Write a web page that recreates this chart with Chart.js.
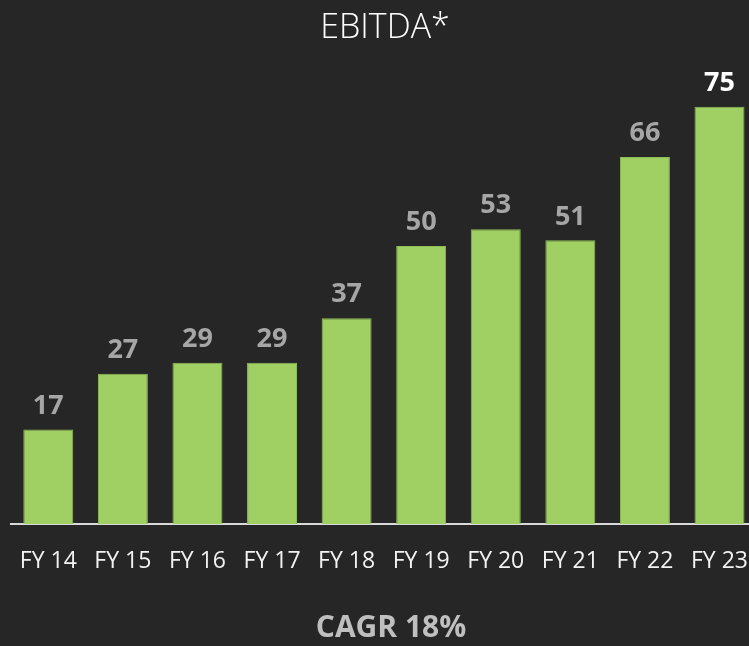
<!DOCTYPE html>
<html>
<head>
<meta charset="utf-8">
<script src="https://cdn.jsdelivr.net/npm/chart.js@4/dist/chart.umd.min.js"></script>
<style>
  html, body { margin: 0; padding: 0; background: #262626; overflow: hidden; }
  #wrap { position: relative; width: 749px; height: 646px; overflow: hidden; }
  #chart { position: absolute; left: 0; top: 0; }
  .title { position: absolute; top: 2px; left: 0; width: 770px; text-align: center;
           font-family: 'Open Sans', sans-serif; font-weight: 300; font-size: 34px; color: #ffffff; }
  .cagr { position: absolute; top: 605px; left: 0; width: 782px; text-align: center;
          font-family: 'Open Sans', sans-serif; font-weight: 700; font-size: 30px; color: #bfbfbf; }
</style>
</head>
<body>
<div id="wrap">
  <canvas id="chart" width="764" height="646"></canvas>
  <div class="title">EBITDA*</div>
  <div class="cagr">CAGR 18%</div>
</div>
<script>
const years = ['FY 14', 'FY 15', 'FY 16', 'FY 17', 'FY 18', 'FY 19', 'FY 20', 'FY 21', 'FY 22', 'FY 23'];
const ebitda = [17, 27, 29, 29, 37, 50, 53, 51, 66, 75];

// value labels above each bar, last one highlighted
const barLabels = {
    id: 'barLabels',
    afterDatasetsDraw(chart) {
        const ctx = chart.ctx;
        const meta = chart.getDatasetMeta(0);
        ctx.save();
        ctx.font = "bold 27px 'Open Sans', sans-serif";
        ctx.textAlign = 'center';
        ctx.textBaseline = 'bottom';
        meta.data.forEach((bar, i) => {
            ctx.fillStyle = i === meta.data.length - 1 ? '#ffffff' : '#a6a6a6';
            ctx.fillText(ebitda[i], bar.x, bar.y - 10);
        });
        ctx.restore();
    }
};

new Chart(document.getElementById('chart').getContext('2d'), {
    type: 'bar',
    data: {
        labels: years,
        datasets: [{
            data: ebitda,
            backgroundColor: '#a0cf63',
            borderColor: '#8fbd55',
            borderWidth: { left: 1, right: 1, top: 1, bottom: 0 },
            barPercentage: 0.67,
            categoryPercentage: 1
        }]
    },
    options: {
        responsive: false,
        animation: false,
        layout: { padding: { top: 79, left: 11, right: 0, bottom: 0 } },
        plugins: {
            legend: { display: false },
            title: { display: false },
            tooltip: { enabled: false }
        },
        scales: {
            x: {
                grid: { display: false },
                border: { display: true, color: '#d9d9d9', width: 2 },
                ticks: {
                    color: '#f2f2f2',
                    font: { family: 'Open Sans', size: 23 },
                    padding: 16,
                    maxRotation: 0
                },
                afterFit(scale) { scale.height = 122; }
            },
            y: {
                display: false,
                min: 0,
                max: 80
            }
        }
    },
    plugins: [barLabels]
});
</script>
</body>
</html>
